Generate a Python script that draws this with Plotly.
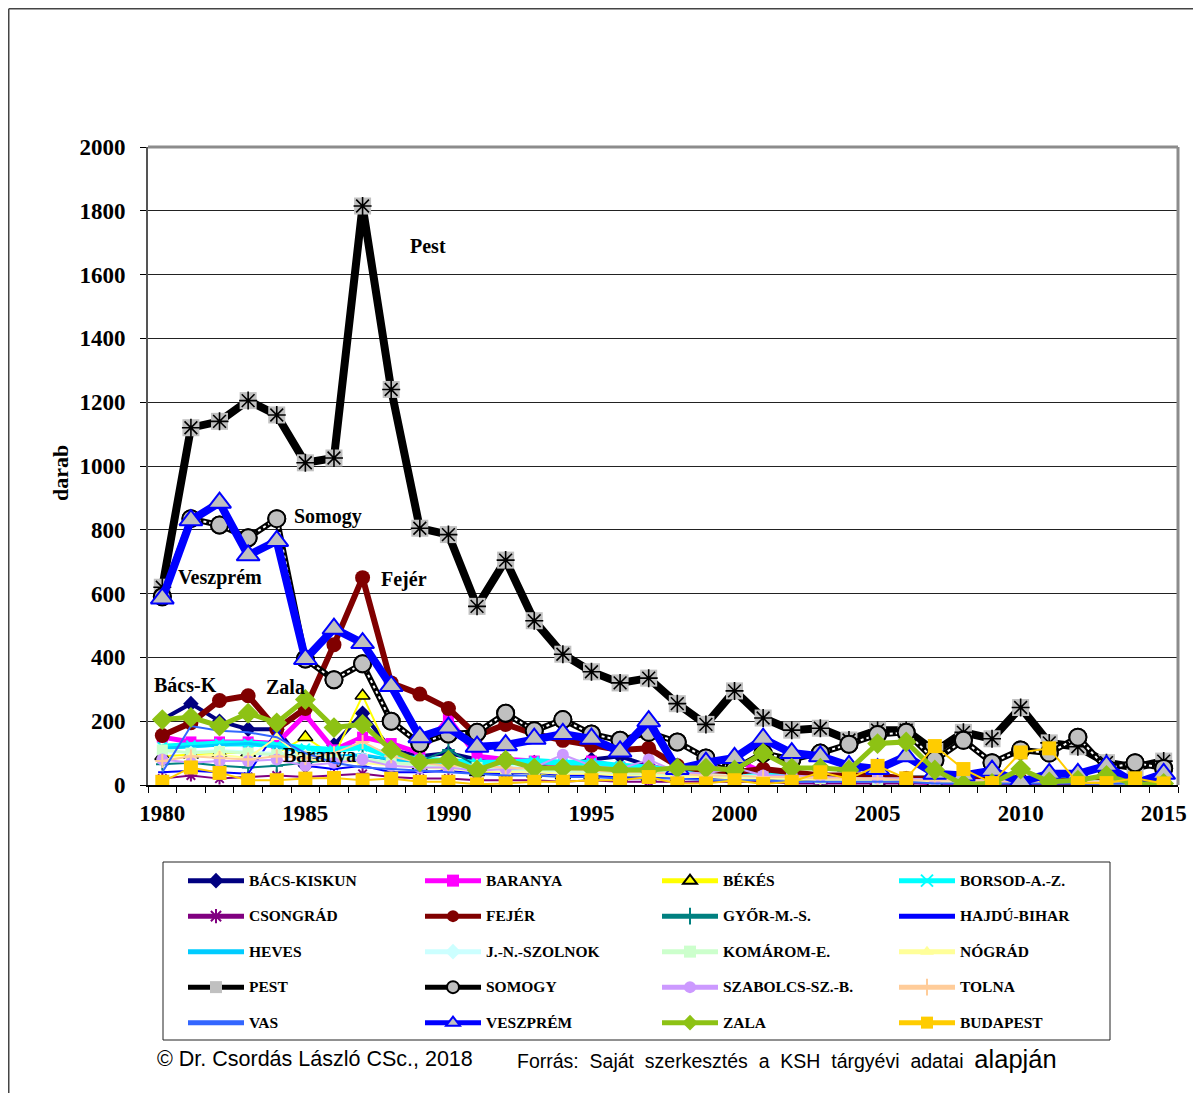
import plotly.graph_objects as go

years = list(range(1980, 2016))

bacs_kiskun = [205,255,200,175,175,60,125,225,110,90,100,80,80,70,60,80,90,60,40,35,30,40,30,25,20,20,20,15,15,10,10,10,10,5,5,5]
baranya = [150,135,135,135,130,220,110,150,130,100,210,90,80,75,60,75,55,60,40,30,80,40,30,20,15,20,15,5,5,10,10,5,5,5,10,10]
bekes = [90,95,100,100,100,150,90,280,90,60,60,40,40,35,30,30,25,25,20,20,20,20,15,15,15,10,10,10,10,10,10,10,5,5,5,5]
borsod = [120,125,130,130,125,115,110,120,90,80,75,70,70,75,70,70,60,55,45,40,40,35,30,30,25,25,20,20,20,20,15,15,15,10,10,10]
csongrad = [20,30,20,25,30,25,30,35,25,20,20,15,15,15,10,15,10,10,10,10,10,10,5,5,5,5,5,5,5,5,0,5,0,5,0,0]
fejer = [155,195,265,280,175,240,440,650,320,285,240,155,190,160,140,125,110,115,60,45,40,50,40,30,30,30,20,20,20,15,15,15,10,10,10,10]
gyor = [65,70,60,55,60,70,80,90,80,75,110,60,55,50,45,50,40,35,30,30,30,25,25,20,20,15,15,15,10,10,10,10,10,5,5,5]
hajdu = [40,45,40,35,170,60,50,60,40,40,45,35,35,40,30,30,25,25,20,20,25,20,20,15,15,15,10,10,10,10,10,10,5,5,5,5]
heves = [115,120,125,130,120,100,90,95,80,70,60,55,50,50,45,45,40,35,30,30,25,25,20,20,20,15,15,15,15,10,10,10,10,10,5,5]
jnsz = [100,105,110,105,100,95,90,85,70,60,55,50,60,55,50,55,50,45,40,35,30,30,25,25,20,20,20,15,15,15,15,10,10,10,10,10]
komarom = [110,100,105,100,95,90,85,80,70,65,60,55,50,45,45,40,40,35,30,30,25,25,20,20,20,15,15,15,10,10,10,10,10,10,5,5]
nograd = [80,90,95,85,150,80,75,70,60,55,50,45,40,40,35,35,30,30,25,25,20,20,20,15,15,15,10,10,10,10,10,10,5,5,5,5]
pest = [620,1120,1140,1205,1160,1010,1025,1815,1240,805,785,560,705,515,410,355,320,335,255,190,295,210,172,178,141,172,172,105,165,145,243,132,120,70,55,75]
somogy = [590,835,815,775,835,395,330,380,200,130,160,165,225,170,205,160,140,165,135,85,50,100,80,100,128,158,165,78,140,70,110,100,150,52,70,52]
szabolcs = [80,70,75,75,80,60,70,80,60,55,55,45,50,55,95,60,50,80,40,35,55,30,30,25,20,20,20,15,15,15,15,10,10,10,10,10]
tolna = [75,90,85,80,90,85,100,135,90,70,60,60,55,50,50,45,40,40,35,30,30,25,25,20,20,20,15,15,15,10,10,10,10,10,5,5]
vas = [40,185,170,165,150,100,70,55,50,45,40,35,30,30,25,25,20,20,20,15,15,15,10,10,10,10,10,5,5,5,5,5,5,5,5,5]
veszprem = [585,830,885,720,765,395,490,445,310,150,180,120,125,145,160,145,105,200,50,70,85,145,100,90,60,50,90,35,30,45,10,35,35,60,5,35]
zala = [205,212,185,225,195,268,180,190,110,72,78,47,78,53,53,53,47,47,53,53,47,100,53,53,47,130,135,47,2,5,50,10,15,30,2,5]
budapest = [10,55,38,15,15,20,22,15,20,10,10,2,5,10,10,15,15,25,5,5,15,3,10,40,20,60,21,122,50,6,102,115,6,6,21,5]

year_ticks = [1980, 1985, 1990, 1995, 2000, 2005, 2010, 2015]

# figure geometry (page has an 8px body margin)
W, H = 1193, 1085
L, T = 140, 139
PW, PH = 1030, 638
B = H - T - PH
R = W - L - PW

def px(x):
    return (x - 8 - L) / PW

def py(y):
    return (T + PH - (y - 8)) / PH

LEG_SIZE = 15.5

def lname(n):
    return f"<span style='font-size:{LEG_SIZE}px'>{n}</span><br>\u00a0"

fig = go.Figure()

def add(name, vals, color, width, symbol=None, msize=8, mcolor=None, mline_color=None, mline_width=0, dash='solid'):
    mode = 'lines+markers' if symbol else 'lines'
    marker = dict(symbol=symbol or 'circle', size=msize, color=mcolor or color,
                  line=dict(color=mline_color or color, width=mline_width))
    fig.add_trace(go.Scatter(x=years, y=vals, name=lname(name), mode=mode,
                             line=dict(color=color, width=width, dash=dash),
                             marker=marker))

add('BÁCS-KISKUN', bacs_kiskun, '#000080', 4, 'diamond', 12)
add('BARANYA', baranya, '#FF00FF', 5, 'square', 11)
add('BÉKÉS', bekes, '#FFFF00', 2, 'triangle-up', 13, '#FFFF00', 'black', 1.5)
add('BORSOD-A.-Z.', borsod, '#00FFFF', 6, 'x-thin', 9, None, '#00FFFF', 2)
add('CSONGRÁD', csongrad, '#800080', 2, 'asterisk', 10, None, '#800080', 2)
add('FEJÉR', fejer, '#800000', 6, 'circle', 15)
add('GYŐR-M.-S.', gyor, '#008080', 2, 'cross-thin', 9, None, '#008080', 2)
add('HAJDÚ-BIHAR', hajdu, '#0000FF', 2, 'line-ew', 6, None, '#0000FF', 2)
add('HEVES', heves, '#00CCFF', 3, 'line-ew', 6, None, '#00CCFF', 2)
add('J.-N.-SZOLNOK', jnsz, '#CCFFFF', 2, 'diamond', 9)
add('KOMÁROM-E.', komarom, '#CCFFCC', 3, 'square', 11)
add('NÓGRÁD', nograd, '#FFFF99', 2, 'triangle-up', 11)

# Pest: thick black line, gray squares with black asterisk
add('PEST', pest, '#000000', 8, 'square', 17, '#C0C0C0', '#C0C0C0', 0)
fig.add_trace(go.Scatter(x=years, y=pest, mode='markers', showlegend=False, hoverinfo='skip',
                         marker=dict(symbol='asterisk-open', size=15, color='black',
                                     line=dict(color='black', width=1.6))))

# Somogy: black band with white dots, gray circles
add('SOMOGY', somogy, '#000000', 6, 'circle', 17, '#C0C0C0', '#000000', 2)
fig.add_trace(go.Scatter(x=years, y=somogy, mode='lines', showlegend=False, hoverinfo='skip',
                         line=dict(color='white', width=2, dash='dot')))
fig.add_trace(go.Scatter(x=years, y=somogy, mode='markers', showlegend=False, hoverinfo='skip',
                         marker=dict(symbol='circle', size=17, color='#C0C0C0',
                                     line=dict(color='black', width=2))))

add('SZABOLCS-SZ.-B.', szabolcs, '#CC99FF', 2, 'circle', 12)
add('TOLNA', tolna, '#FFCC99', 2, 'cross-thin', 10, None, '#FFCC99', 2)
add('VAS', vas, '#3366FF', 2)
add('VESZPRÉM', veszprem, '#0000FF', 8, 'triangle-up', 20, '#C0C0C0', '#0000FF', 2)
add('ZALA', zala, '#8DC214', 5, 'diamond', 16)
add('BUDAPEST', budapest, '#FFCC00', 2, 'square', 14)

serif = 'Liberation Serif'

annots = [
    ('Pest', 1989.3, 1690),
    ('Somogy', 1985.8, 843),
    ('Veszprém', 1982.0, 652),
    ('Fejér', 1988.45, 643),
    ('Bács-K', 1980.8, 312),
    ('Zala', 1984.3, 308),
    ('Baranya', 1985.5, 92),
]
for t, x, y in annots:
    fig.add_annotation(x=x, y=y, xref='x', yref='y', text=t, showarrow=False,
                       font=dict(family=serif, size=20, color='black', weight='bold'))

fig.add_annotation(x=px(60), y=py(473), xref='paper', yref='paper', text='darab', textangle=-90,
                   xanchor='center', yanchor='middle',
                   showarrow=False, font=dict(family=serif, size=22, color='black', weight='bold'))

fig.add_annotation(x=px(155), y=py(1059), xref='paper', yref='paper',
                   xanchor='left', yanchor='middle', showarrow=False,
                   text='© Dr. Csordás László CSc., 2018',
                   font=dict(family='Liberation Sans', size=21.5, color='black'))
fig.add_annotation(x=px(515), y=py(1059), xref='paper', yref='paper',
                   xanchor='left', yanchor='middle', showarrow=False,
                   text="Forrás:  Saját  szerkesztés  a  KSH  tárgyévi  adatai  <span style='font-size:25.5px'>alapján</span>",
                   font=dict(family='Liberation Sans', size=19.5, color='black'))

shapes = [
    dict(type='line', xref='paper', yref='paper', x0=0, x1=1, y0=1, y1=1,
         line=dict(color='#8c8c8c', width=3)),
    dict(type='line', xref='paper', yref='paper', x0=1, x1=1, y0=0, y1=1,
         line=dict(color='#8c8c8c', width=3)),
    dict(type='line', xref='paper', yref='paper', x0=(0.75 - L) / PW, x1=(W - L) / PW,
         y0=(T + PH - 0.75) / PH, y1=(T + PH - 0.75) / PH, line=dict(color='#444', width=1.5)),
    dict(type='line', xref='paper', yref='paper', x0=(0.75 - L) / PW, x1=(0.75 - L) / PW,
         y0=(T + PH - 0.75) / PH, y1=(T + PH - H) / PH, line=dict(color='#444', width=1.5)),
    # legend frame
    dict(type='rect', xref='paper', yref='paper', x0=px(163), x1=px(1110), y0=py(1040), y1=py(862),
         line=dict(color='#222', width=1), fillcolor='rgba(0,0,0,0)', layer='below'),
]

fig.update_layout(
    width=W, height=H,
    margin=dict(l=L, r=R, t=T, b=B),
    paper_bgcolor='white', plot_bgcolor='white',
    shapes=shapes,
    showlegend=True,
    legend=dict(orientation='h', x=px(183), y=py(866), xanchor='left', yanchor='top',
                entrywidth=166, entrywidthmode='pixels', itemwidth=56,
                itemsizing='constant', valign='top',
                borderwidth=0, bgcolor='rgba(0,0,0,0)',
                font=dict(family=serif, size=12.5, color='black', weight='bold'),
                traceorder='normal'),
    xaxis=dict(range=[1979.5, 2015.5], tickvals=year_ticks, ticktext=[str(y) for y in year_ticks],
               ticks='outside', ticklen=0, ticklabelstandoff=7,
               minor=dict(tick0=1979.5, dtick=1, ticks='outside', ticklen=6, tickcolor='black', showgrid=False),
               showgrid=False, zeroline=False, showline=True, linecolor='black', linewidth=1.5,
               tickfont=dict(family=serif, size=23, color='black', weight='bold')),
    yaxis=dict(range=[0, 2000], dtick=200, tick0=0, ticks='outside', ticklen=6, tickcolor='black',
               ticklabelstandoff=10,
               showgrid=True, gridcolor='#222', gridwidth=1, zeroline=False,
               showline=True, linecolor='#555', linewidth=2,
               tickfont=dict(family=serif, size=23, color='black', weight='bold')),
)

fig.write_html('out.html')
